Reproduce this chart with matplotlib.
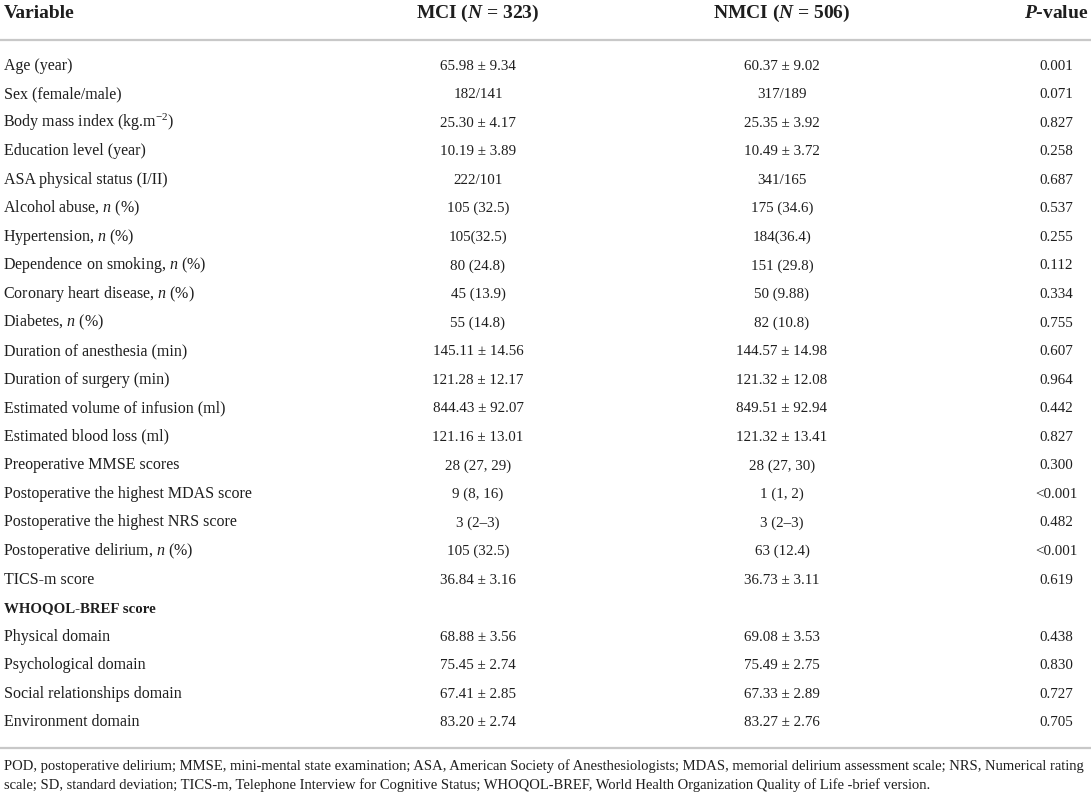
import matplotlib
matplotlib.use("Agg")
import matplotlib.pyplot as plt

plt.rcParams['font.family'] = ['Liberation Serif', 'DejaVu Serif']
plt.rcParams['mathtext.fontset'] = 'custom'
plt.rcParams['mathtext.rm'] = 'Liberation Serif'
plt.rcParams['mathtext.it'] = 'Liberation Serif:italic'
plt.rcParams['mathtext.bf'] = 'Liberation Serif:bold'
plt.rcParams['mathtext.bfit'] = 'Liberation Serif:bold:italic'

headers = ['Variable', r'MCI ($\mathbfit{N}$ = 323)', r'NMCI ($\mathbfit{N}$ = 506)', r'$\mathbfit{P}$-value']

variables = [
    'Age (year)', 'Sex (female/male)', r'Body mass index (kg.m$^{-2}$)',
    'Education level (year)', 'ASA physical status (I/II)',
    r'Alcohol abuse, $n$ (%)', r'Hypertension, $n$ (%)',
    r'Dependence on smoking, $n$ (%)', r'Coronary heart disease, $n$ (%)',
    r'Diabetes, $n$ (%)', 'Duration of anesthesia (min)', 'Duration of surgery (min)',
    'Estimated volume of infusion (ml)', 'Estimated blood loss (ml)',
    'Preoperative MMSE scores', 'Postoperative the highest MDAS score',
    'Postoperative the highest NRS score', r'Postoperative delirium, $n$ (%)',
    'TICS-m score', 'WHOQOL-BREF score', 'Physical domain', 'Psychological domain',
    'Social relationships domain', 'Environment domain',
]
mci = [
    '65.98 ± 9.34', '182/141', '25.30 ± 4.17', '10.19 ± 3.89', '222/101',
    '105 (32.5)', '105(32.5)', '80 (24.8)', '45 (13.9)', '55 (14.8)',
    '145.11 ± 14.56', '121.28 ± 12.17', '844.43 ± 92.07', '121.16 ± 13.01',
    '28 (27, 29)', '9 (8, 16)', '3 (2–3)', '105 (32.5)', '36.84 ± 3.16', '',
    '68.88 ± 3.56', '75.45 ± 2.74', '67.41 ± 2.85', '83.20 ± 2.74',
]
nmci = [
    '60.37 ± 9.02', '317/189', '25.35 ± 3.92', '10.49 ± 3.72', '341/165',
    '175 (34.6)', '184(36.4)', '151 (29.8)', '50 (9.88)', '82 (10.8)',
    '144.57 ± 14.98', '121.32 ± 12.08', '849.51 ± 92.94', '121.32 ± 13.41',
    '28 (27, 30)', '1 (1, 2)', '3 (2–3)', '63 (12.4)', '36.73 ± 3.11', '',
    '69.08 ± 3.53', '75.49 ± 2.75', '67.33 ± 2.89', '83.27 ± 2.76',
]
pvals = [
    '0.001', '0.071', '0.827', '0.258', '0.687', '0.537', '0.255', '0.112',
    '0.334', '0.755', '0.607', '0.964', '0.442', '0.827', '0.300', '<0.001',
    '0.482', '<0.001', '0.619', '', '0.438', '0.830', '0.727', '0.705',
]
bold_rows = ['WHOQOL-BREF score']

footnote = [
    'POD, postoperative delirium; MMSE, mini-mental state examination; ASA, American Society of Anesthesiologists; '
    'MDAS, memorial delirium assessment scale; NRS, Numerical rating',
    'scale; SD, standard deviation; TICS-m, Telephone Interview for Cognitive Status; '
    'WHOQOL-BREF, World Health Organization Quality of Life -brief version.',
]

W, H = 1091, 797
fig = plt.figure(figsize=(W / 100, H / 100), dpi=100)
ax = fig.add_axes([0, 0, 1, 1])
ax.set_xlim(0, W)
ax.set_ylim(H, 0)
ax.axis('off')

txt = '#1e1e1e'
rule = '#c8c8c8'
col_x = [4, 478, 782, 1056]
label_fs = 11.5
num_fs = 10.8
head_fs = 14

# header
ax.text(col_x[0], 13, headers[0], fontsize=head_fs, fontweight='bold', color=txt, ha='left', va='center')
for x, h in zip(col_x[1:], headers[1:]):
    ax.text(x, 13, h, fontsize=head_fs, fontweight='bold', color=txt, ha='center', va='center')
ax.plot([0, W], [40, 40], color=rule, lw=1.6, solid_capstyle='butt')

# body rows, all on a common baseline so mixed fonts line up
y0, dy, base = 65, 28.56, 4.5
for i, (v, a, b, p) in enumerate(zip(variables, mci, nmci, pvals)):
    y = y0 + i * dy + base
    fw = 'bold' if v in bold_rows else 'normal'
    fs = label_fs - 0.8 if v in bold_rows else label_fs
    lx = col_x[0] - 1 if '$' in v else col_x[0]  # mathtext adds a bit of left padding
    ax.text(lx, y, v, fontsize=fs, fontweight=fw, color=txt, ha='left', va='baseline')
    ax.text(col_x[1], y, a, fontsize=num_fs, color=txt, ha='center', va='baseline')
    ax.text(col_x[2], y, b, fontsize=num_fs, color=txt, ha='center', va='baseline')
    ax.text(col_x[3], y, p, fontsize=num_fs, color=txt, ha='center', va='baseline')

ax.plot([0, W], [748, 748], color=rule, lw=1.6, solid_capstyle='butt')
for j, line in enumerate(footnote):
    ax.text(col_x[0], 766 + j * 19.5, line, fontsize=10.5, color=txt, ha='left', va='center')

fig.savefig('out.png', dpi=100)
